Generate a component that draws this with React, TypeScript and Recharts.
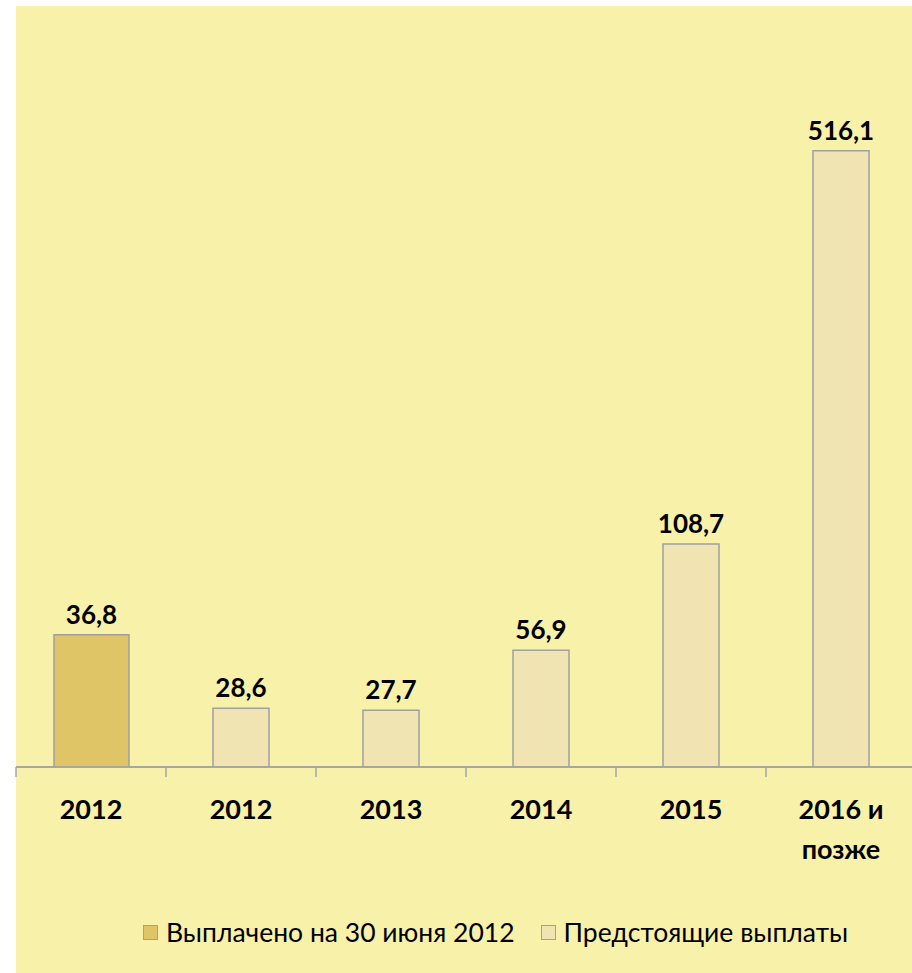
import React from 'react';
import { BarChart, Bar, XAxis, YAxis, LabelList, Legend } from 'recharts';

// ---- data ----
const categories = ['2012', '2012', '2013', '2014', '2015', '2016 и позже'];
const paidValues: (number | null)[] = [36.8, null, null, null, null, null];
const upcomingValues: (number | null)[] = [null, 28.6, 27.7, 56.9, 108.7, 516.1];
const seriesNames = ['Выплачено на 30 июня 2012', 'Предстоящие выплаты'];

// the picture draws the bars on different (non-uniform) scales
const lastIndex = categories.length - 1;
const data = categories.map((name, i) => ({
  name,
  paid: paidValues[i],
  upcoming: i < lastIndex ? upcomingValues[i] : null,
  upcomingLate: i === lastIndex ? upcomingValues[i] : null,
}));

// ---- styles ----
const FONT = "Lato, 'Noto Sans', sans-serif";
const BG = '#F7F1AA';
const PAID = '#DFC565';
const UPCOMING = '#F0E4B3';
const STROKE = '#A0A0A0';
const AXIS = '#A6A6A6';

const fmt = (v: any) => (v == null ? '' : Number(v).toFixed(1).replace('.', ','));

const splitLabel = (s: string): string[] => {
  const words = String(s).split(' ');
  if (words.length < 2) return [String(s)];
  return [words.slice(0, -1).join(' '), words[words.length - 1]];
};

const CatTick = (props: any) => {
  const { x, y, payload, index, visibleTicksCount } = props;
  const half = payload && typeof payload.offset === 'number' ? payload.offset : 0;
  const isLast = index === (visibleTicksCount ?? categories.length) - 1;
  const lines = splitLabel(payload.value);
  return (
    <g>
      <line x1={x - half} x2={x - half} y1={y} y2={y + 10} stroke={AXIS} strokeWidth={1.5} />
      {isLast && <line x1={x + half} x2={x + half} y1={y} y2={y + 10} stroke={AXIS} strokeWidth={1.5} />}
      <text
        x={x}
        y={y + 52}
        textAnchor="middle"
        fill="#000"
        style={{ fontFamily: FONT, fontWeight: 700, fontSize: 27 }}
      >
        {lines.map((ln, i) => (
          <tspan key={i} x={x} dy={i === 0 ? 0 : 40}>
            {ln}
          </tspan>
        ))}
      </text>
    </g>
  );
};

const LegendContent = (props: any) => {
  const items = (props.payload || []).filter((p: any) => p.type !== 'none');
  return (
    <div style={{ display: 'flex', alignItems: 'center', height: 32, fontFamily: FONT, fontSize: 26.5, color: '#000' }}>
      {items.map((p: any, i: number) => (
        <div key={i} style={{ display: 'flex', alignItems: 'center', marginRight: 26 }}>
          <div
            style={{
              width: 13,
              height: 13,
              background: p.color,
              border: `1.5px solid ${STROKE}`,
              marginRight: 8,
            }}
          />
          <span style={{ whiteSpace: 'nowrap' }}>{p.value}</span>
        </div>
      ))}
    </div>
  );
};

const labelProps = {
  position: 'top' as const,
  offset: 11,
  formatter: fmt,
  fill: '#000',
  stroke: 'none',
  fontSize: 26,
  fontWeight: 700,
  fontFamily: FONT,
};

export default function App() {
  return (
    <div style={{ position: 'absolute', left: 0, top: 0, width: 912, height: 973, overflow: 'hidden', background: '#fff' }}>
      <div style={{ position: 'absolute', left: 16, top: 6, right: 0, bottom: 0, background: BG }} />
      <div style={{ position: 'absolute', left: 0, top: 0 }}>
        <BarChart width={930} height={973} data={data} margin={{ top: 60, right: 14, bottom: 56, left: 16 }}>
          <XAxis
            xAxisId="cat"
            dataKey="name"
            type="category"
            interval={0}
            height={150}
            tickSize={0}
            tickMargin={0}
            axisLine={{ stroke: AXIS, strokeWidth: 2 }}
            tickLine={false}
            tick={<CatTick />}
          />
          <XAxis xAxisId="cat2" dataKey="name" type="category" hide />
          <XAxis xAxisId="cat3" dataKey="name" type="category" hide />
          <YAxis yAxisId="a" type="number" hide domain={[0, 196.65]} allowDataOverflow />
          <YAxis yAxisId="b" type="number" hide domain={[0, 344.8]} allowDataOverflow />
          <YAxis yAxisId="c" type="number" hide domain={[0, 592.05]} allowDataOverflow />
          <Legend
            layout="horizontal"
            verticalAlign="middle"
            align="center"
            content={<LegendContent />}
            wrapperStyle={{ left: 143, top: 916, width: 760 }}
          />
          <Bar
            xAxisId="cat"
            yAxisId="a"
            dataKey="paid"
            name={seriesNames[0]}
            fill={PAID}
            stroke={STROKE}
            strokeWidth={1.5}
            barSize={75}
            isAnimationActive={false}
          >
            <LabelList dataKey="paid" {...labelProps} />
          </Bar>
          <Bar
            xAxisId="cat2"
            yAxisId="b"
            dataKey="upcoming"
            name={seriesNames[1]}
            fill={UPCOMING}
            stroke={STROKE}
            strokeWidth={1.5}
            barSize={56}
            isAnimationActive={false}
          >
            <LabelList dataKey="upcoming" {...labelProps} />
          </Bar>
          <Bar
            xAxisId="cat3"
            yAxisId="c"
            dataKey="upcomingLate"
            name={seriesNames[1]}
            legendType="none"
            fill={UPCOMING}
            stroke={STROKE}
            strokeWidth={1.5}
            barSize={56}
            isAnimationActive={false}
          >
            <LabelList dataKey="upcomingLate" {...labelProps} />
          </Bar>
        </BarChart>
      </div>
    </div>
  );
}
